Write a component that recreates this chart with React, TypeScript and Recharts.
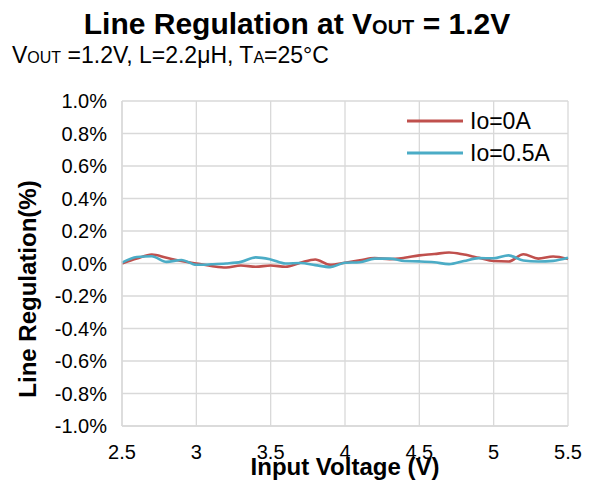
import React from 'react';
import { LineChart, Line, XAxis, YAxis, CartesianGrid, Legend } from 'recharts';

const voltages = [2.5, 2.6, 2.7, 2.8, 2.9, 3.0, 3.1, 3.2, 3.3, 3.4, 3.5, 3.6, 3.7, 3.8, 3.9, 4.0, 4.1, 4.2, 4.3, 4.4, 4.5, 4.6, 4.7, 4.8, 4.9, 5.0, 5.1, 5.2, 5.3, 5.4, 5.5];
const io0A = [0.0, 0.03, 0.055, 0.035, 0.015, 0.0, -0.015, -0.025, -0.012, -0.02, -0.012, -0.02, 0.005, 0.025, -0.008, 0.005, 0.02, 0.033, 0.027, 0.035, 0.05, 0.058, 0.068, 0.055, 0.035, 0.015, 0.012, 0.057, 0.03, 0.043, 0.028];
const io05A = [0.005, 0.04, 0.045, 0.01, 0.022, -0.008, -0.005, 0.0, 0.01, 0.038, 0.025, 0.0, 0.003, -0.01, -0.022, 0.005, 0.008, 0.03, 0.03, 0.015, 0.013, 0.008, -0.004, 0.015, 0.033, 0.032, 0.05, 0.018, 0.012, 0.016, 0.035];
const xTicks = [2.5, 3, 3.5, 4, 4.5, 5, 5.5];
const yTicks = [-1.0, -0.8, -0.6, -0.4, -0.2, 0.0, 0.2, 0.4, 0.6, 0.8, 1.0];
const seriesNames = ['Io=0A', 'Io=0.5A'];

const FONT = 'Arial, "Liberation Sans", sans-serif';
const RED = '#C0504D';
const BLUE = '#4BACC6';

const data = voltages.map((v, i) => ({ v, a: io0A[i], b: io05A[i] }));

const renderLegend = (props: any) => {
  const items = [...(props.payload || [])].sort(
    (p: any, q: any) => seriesNames.indexOf(p.value) - seriesNames.indexOf(q.value)
  );
  return (
    <div style={{ fontFamily: FONT }}>
      {items.map((p: any) => (
        <div key={p.value} style={{ display: 'flex', alignItems: 'center', height: 32 }}>
          <svg width={56} height={4} style={{ display: 'block' }}>
            <line x1={0} y1={2} x2={56} y2={2} stroke={p.color} strokeWidth={3} />
          </svg>
          <span style={{ marginLeft: 7, fontSize: 23, color: '#000', lineHeight: '24px' }}>{p.value}</span>
        </div>
      ))}
    </div>
  );
};

export default function App() {
  return (
    <div style={{ position: 'absolute', left: 0, top: 0, width: 595, height: 482, background: '#fff' }}>
      <div style={{ position: 'absolute', left: 0, top: 0 }}>
        <LineChart width={595} height={482} data={data} margin={{ top: 101, right: 27, bottom: 26, left: 0 }}>
          <CartesianGrid stroke="#d9d9d9" strokeWidth={1.3} />
          <XAxis
            dataKey="v"
            type="number"
            domain={[2.5, 5.5]}
            ticks={xTicks}
            tickLine={false}
            axisLine={{ stroke: '#d9d9d9', strokeWidth: 1.3 }}
            tick={{ fill: '#000', fontSize: 20, fontFamily: FONT }}
            tickMargin={13}
            height={30}
            interval={0}
          />
          <YAxis
            type="number"
            domain={[-1, 1]}
            ticks={yTicks}
            tickFormatter={(v: number) => `${v.toFixed(1)}%`}
            tickLine={false}
            axisLine={{ stroke: '#d9d9d9', strokeWidth: 1.3 }}
            tick={{ fill: '#000', fontSize: 20, fontFamily: FONT }}
            tickMargin={9}
            width={122}
            interval={0}
          />
          <Legend
            layout="horizontal"
            verticalAlign="middle"
            align="center"
            content={renderLegend}
            wrapperStyle={{ position: 'absolute', top: 105, left: 407, width: 170 }}
          />
          <Line type="monotone" dataKey="a" name={seriesNames[0]} stroke={RED} strokeWidth={2.6} dot={false} isAnimationActive={false} />
          <Line type="monotone" dataKey="b" name={seriesNames[1]} stroke={BLUE} strokeWidth={2.6} dot={false} isAnimationActive={false} />
        </LineChart>
      </div>
      <svg width={595} height={482} style={{ position: 'absolute', left: 0, top: 0, pointerEvents: 'none' }}>
        <text x={297} y={34} textAnchor="middle" fontFamily={FONT} fontWeight="bold" fontSize={30} fill="#000">
          Line Regulation at V<tspan fontSize={20}>OUT</tspan><tspan> = 1.2V</tspan>
        </text>
        <text x={12} y={63} fontFamily={FONT} fontSize={23} fill="#000">
          V<tspan fontSize={16}>OUT</tspan><tspan> =1.2V, L=2.2μH, T</tspan><tspan fontSize={16}>A</tspan><tspan>=25°C</tspan>
        </text>
        <text x={345} y={475} textAnchor="middle" fontFamily={FONT} fontWeight="bold" fontSize={24} fill="#000">
          Input Voltage (V)
        </text>
        <text x={27} y={289} textAnchor="middle" dominantBaseline="central" transform="rotate(-90 27 289)" fontFamily={FONT} fontWeight="bold" fontSize={24} fill="#000">
          Line Regulation(%)
        </text>
      </svg>
    </div>
  );
}
